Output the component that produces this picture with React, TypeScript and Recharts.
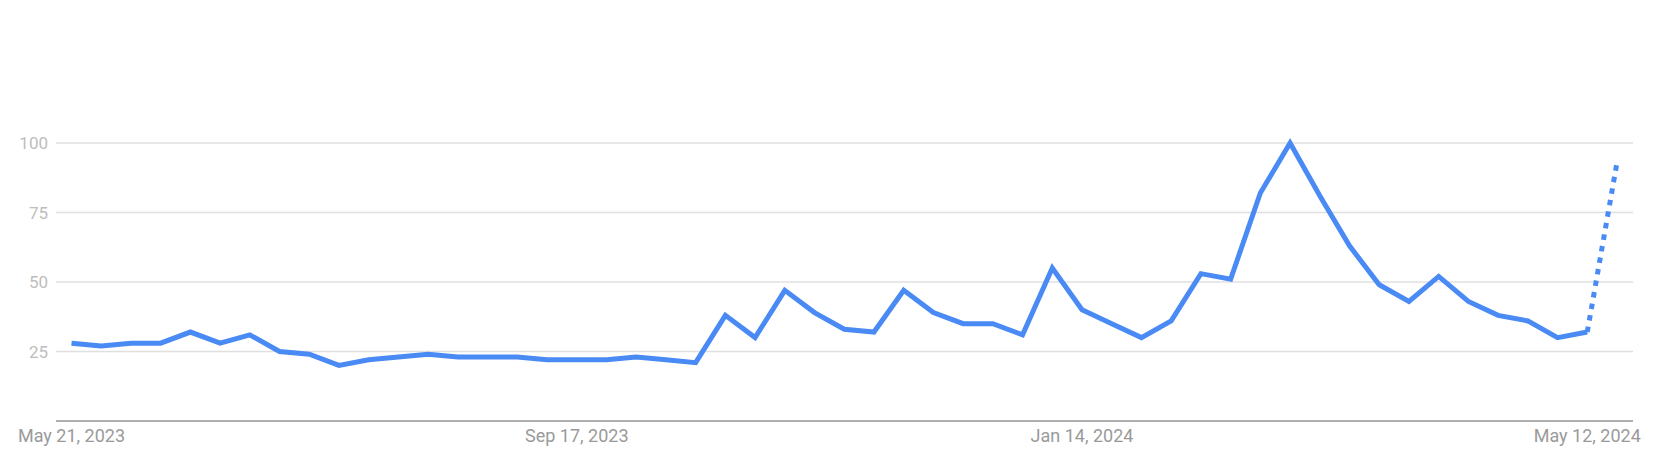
import React from "react"
import { LineChart, Line, XAxis, YAxis, CartesianGrid } from "recharts"

// weekly buckets, May 21 2023 .. May 19 2024 (last week is still partial)
const weeks = [
  "2023-05-21", "2023-05-28", "2023-06-04", "2023-06-11", "2023-06-18", "2023-06-25",
  "2023-07-02", "2023-07-09", "2023-07-16", "2023-07-23", "2023-07-30", "2023-08-06",
  "2023-08-13", "2023-08-20", "2023-08-27", "2023-09-03", "2023-09-10", "2023-09-17",
  "2023-09-24", "2023-10-01", "2023-10-08", "2023-10-15", "2023-10-22", "2023-10-29",
  "2023-11-05", "2023-11-12", "2023-11-19", "2023-11-26", "2023-12-03", "2023-12-10",
  "2023-12-17", "2023-12-24", "2023-12-31", "2024-01-07", "2024-01-14", "2024-01-21",
  "2024-01-28", "2024-02-04", "2024-02-11", "2024-02-18", "2024-02-25", "2024-03-03",
  "2024-03-10", "2024-03-17", "2024-03-24", "2024-03-31", "2024-04-07", "2024-04-14",
  "2024-04-21", "2024-04-28", "2024-05-05", "2024-05-12", "2024-05-19",
]

const interest = [
  28, 27, 28, 28, 32, 28, 31, 25, 24, 20,
  22, 23, 24, 23, 23, 23, 22, 22, 22, 23,
  22, 21, 38, 30, 47, 39, 33, 32, 47, 39,
  35, 35, 31, 55, 40, 35, 30, 36, 53, 51,
  82, 100, 81, 63, 49, 43, 52, 43, 38, 36,
  30, 32, 93,
]

const tickWeeks = ["2023-05-21", "2023-09-17", "2024-01-14", "2024-05-12"]
const tickLabels = ["May 21, 2023", "Sep 17, 2023", "Jan 14, 2024", "May 12, 2024"]
const yTicks = [25, 50, 75, 100]

const lastComplete = weeks.length - 2

const data = weeks.map((week, i) => ({
  week,
  value: i <= lastComplete ? interest[i] : null,
  partial: i >= lastComplete ? interest[i] : null,
}))

const BLUE = "#4a8af4"

export default function App() {
  return (
    <div style={{ position: "absolute", left: 0, top: 0, fontFamily: "Roboto, sans-serif" }}>
      <LineChart width={1665} height={458} data={data} margin={{ top: 143, right: 32, bottom: 7, left: 0 }}>
        <CartesianGrid vertical={false} stroke="#e0e0e0" strokeWidth={1.3} />
        <XAxis
          dataKey="week"
          ticks={tickWeeks}
          interval={0}
          tickFormatter={(w) => tickLabels[tickWeeks.indexOf(w)]}
          padding={{ left: 15.5, right: 16 }}
          tickLine={false}
          stroke="#9e9e9e"
          strokeWidth={1.3}
          height={30}
          tick={{ fill: "#9a9a9a", fontSize: 18, fontFamily: "Roboto" }}
        />
        <YAxis
          domain={[0, 100]}
          ticks={yTicks}
          width={56}
          axisLine={false}
          tickLine={false}
          tick={{ fill: "#bdbdbd", fontSize: 17, fontFamily: "Roboto" }}
        />
        <Line
          dataKey="value"
          stroke={BLUE}
          strokeWidth={5}
          dot={false}
          activeDot={false}
          isAnimationActive={false}
        />
        <Line
          dataKey="partial"
          stroke={BLUE}
          strokeWidth={5}
          strokeDasharray="5.5 6.2"
          dot={false}
          activeDot={false}
          isAnimationActive={false}
        />
      </LineChart>
    </div>
  )
}
